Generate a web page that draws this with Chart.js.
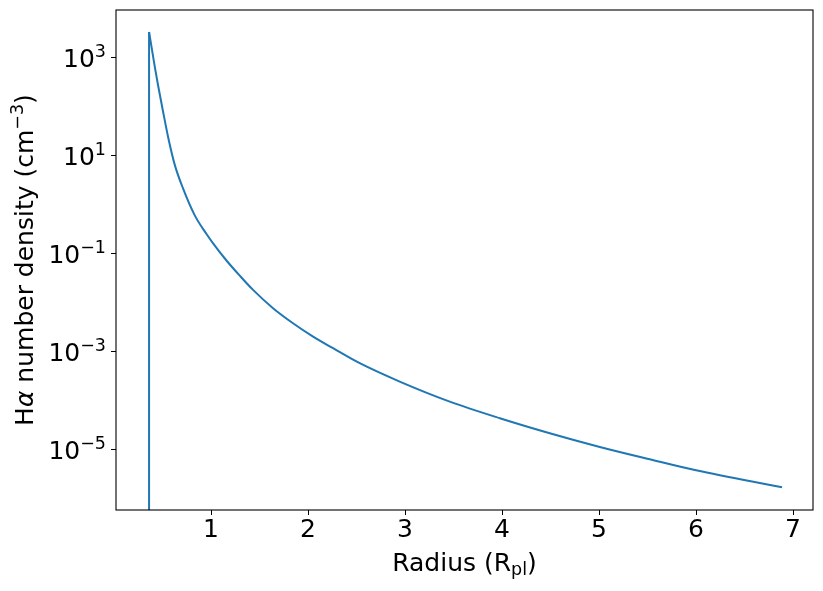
<!DOCTYPE html>
<html>
<head>
<meta charset="utf-8">
<script src="https://cdn.jsdelivr.net/npm/chart.js@4.4.1/dist/chart.umd.min.js"></script>
<style>
html,body{margin:0;padding:0;background:#fff;}
#wrap{width:823px;height:591px;position:relative;}
</style>
</head>
<body>
<div id="wrap"><canvas id="c" width="823" height="591"></canvas></div>
<script>
// Radius in planetary radii
const radius = [0.356, 0.361, 0.420, 0.454, 0.505, 0.557, 0.626, 0.711, 0.832, 0.953, 1.021, 1.159, 1.296, 1.433, 1.639, 1.845, 2.052, 2.258, 2.533, 2.945, 3.461, 3.977, 4.492, 5.008, 5.523, 6.000, 6.887];
// log10 of H-alpha number density (cm^-3); null = zero density (below the axis)
const logDensity = [null, 3.510, 2.80, 2.42, 1.89, 1.37, 0.80, 0.32, -0.23, -0.61, -0.80, -1.15, -1.46, -1.75, -2.122, -2.429, -2.702, -2.939, -3.245, -3.620, -4.029, -4.367, -4.673, -4.953, -5.205, -5.43, -5.776];
const ZERO_FLOOR = 1e-300; // stands in for zero on the log axis (clipped away)
const density = logDensity.map(v => v === null ? ZERO_FLOOR : Math.pow(10, v));
const xTicks = [1, 2, 3, 4, 5, 6, 7];
const yTickExponents = [3, 1, -1, -3, -5];

const FONT = '"DejaVu Sans", sans-serif';
const BASE = 25, SMALL = 17.5;

function drawRich(ctx, segs, x, y, align) {
  let total = 0;
  const widths = segs.map(s => {
    ctx.font = (s.italic ? 'italic ' : '') + s.size + 'px ' + FONT;
    const w = ctx.measureText(s.t).width;
    total += w;
    return w;
  });
  let cx = align === 'center' ? x - total / 2 : (align === 'right' ? x - total : x);
  segs.forEach((s, i) => {
    ctx.font = (s.italic ? 'italic ' : '') + s.size + 'px ' + FONT;
    ctx.fillText(s.t, cx, y + (s.dy || 0));
    cx += widths[i];
  });
}

const textPlugin = {
  id: 'textPlugin',
  afterDraw(chart) {
    const ctx = chart.ctx;
    const a = chart.chartArea;
    const ys = chart.scales.y;
    ctx.save();
    ctx.strokeStyle = '#000';
    ctx.lineWidth = 1.1;
    ctx.strokeRect(a.left, a.top, a.right - a.left, a.bottom - a.top);
    ctx.fillStyle = '#000';
    ctx.textBaseline = 'alphabetic';
    ctx.textAlign = 'left';
    yTickExponents.forEach(e => {
      const py = ys.getPixelForValue(Math.pow(10, e));
      const ex = e < 0 ? '\u2212' + Math.abs(e) : String(e);
      drawRich(ctx, [
        {t: '10', size: BASE, dy: 0},
        {t: ex, size: SMALL, dy: -10}
      ], a.left - 10, py + 10, 'right');
    });
    const cxm = (a.left + a.right) / 2;
    drawRich(ctx, [
      {t: 'Radius (R', size: BASE},
      {t: 'pl', size: SMALL, dy: 4},
      {t: ')', size: BASE}
    ], cxm, 571, 'center');
    ctx.translate(33, (a.top + a.bottom) / 2);
    ctx.rotate(-Math.PI / 2);
    drawRich(ctx, [
      {t: 'H', size: BASE},
      {t: '\u03B1', size: BASE, italic: true},
      {t: ' number density (cm', size: BASE},
      {t: '\u22123', size: SMALL, dy: -10},
      {t: ')', size: BASE}
    ], 0, 0, 'center');
    ctx.restore();
  }
};

const spike = radius.slice(0, 2).map((r, i) => ({x: r, y: density[i]}));
const decay = radius.slice(1).map((r, i) => ({x: r, y: density[i + 1]}));

new Chart(document.getElementById('c'), {
  type: 'line',
  data: {
    datasets: [{
      data: spike,
      borderColor: '#1f77b4',
      borderWidth: 2,
      pointRadius: 0,
      tension: 0,
      fill: false
    }, {
      data: decay,
      borderColor: '#1f77b4',
      borderWidth: 2,
      pointRadius: 0,
      cubicInterpolationMode: 'monotone',
      fill: false
    }]
  },
  options: {
    responsive: false,
    animation: false,
    devicePixelRatio: 1,
    layout: {padding: {top: 10, right: 10, left: 0, bottom: 0}},
    plugins: {legend: {display: false}, tooltip: {enabled: false}},
    scales: {
      x: {
        type: 'linear',
        min: 0.02,
        max: 7.206,
        afterBuildTicks: s => { s.ticks = xTicks.map(v => ({value: v})); },
        afterFit: s => { s.height = 81; },
        grid: {display: true, drawOnChartArea: false, drawTicks: true, tickLength: 5, color: '#000', tickColor: '#000'},
        border: {display: false},
        ticks: {color: '#000', font: {family: FONT, size: BASE}, padding: 0, maxRotation: 0}
      },
      y: {
        type: 'logarithmic',
        min: Math.pow(10, -6.239),
        max: Math.pow(10, 3.959),
        afterBuildTicks: s => { s.ticks = yTickExponents.map(e => ({value: Math.pow(10, e)})); },
        afterFit: s => { s.width = 116; },
        grid: {display: true, drawOnChartArea: false, drawTicks: true, tickLength: 5, color: '#000', tickColor: '#000'},
        border: {display: false},
        ticks: {display: false}
      }
    }
  },
  plugins: [textPlugin]
});
</script>
</body>
</html>
